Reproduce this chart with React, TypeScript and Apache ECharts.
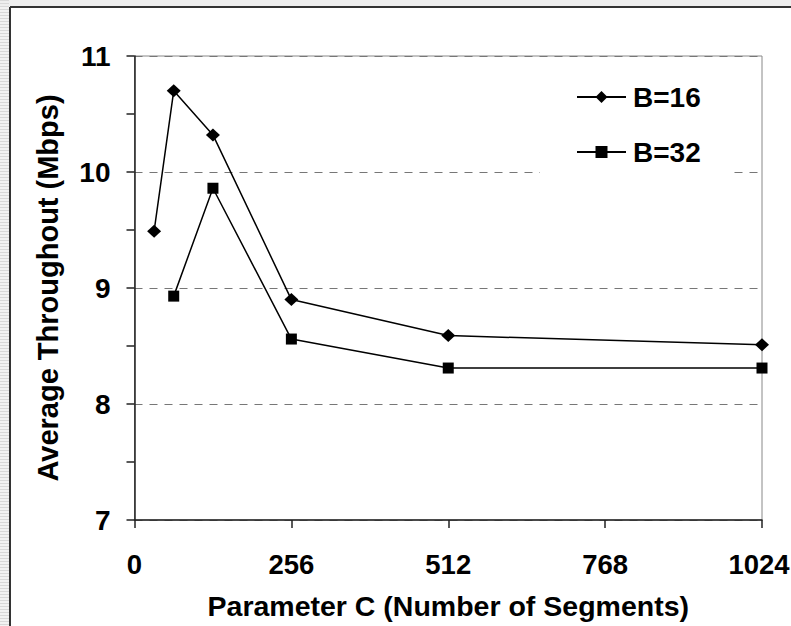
import React, { useEffect, useRef } from "react";
import * as echarts from "echarts";

const xB16 = [32, 64, 128, 256, 512, 1024];
const yB16 = [9.49, 10.7, 10.32, 8.9, 8.59, 8.51];
const xB32 = [64, 128, 256, 512, 1024];
const yB32 = [8.93, 9.86, 8.56, 8.31, 8.31];
const seriesNames = ["B=16", "B=32"];
const xTitle = "Parameter C (Number of Segments)";
const yTitle = "Average Throughout (Mbps)";

const FONT = "'Liberation Sans', Arial, sans-serif";

export default function App() {
  const ref = useRef<HTMLDivElement>(null);
  useEffect(() => {
    if (!ref.current) return;
    const chart = echarts.init(ref.current, undefined, { renderer: "svg" });
    const stripes: any[] = [];
    for (let y = 0; y < 626; y += 3) {
      stripes.push({
        type: "line",
        shape: { x1: 0, y1: y + 0.5, x2: 9, y2: y + 0.5 },
        style: { stroke: "#d8d8d8", lineWidth: 1 },
        silent: true,
      });
    }
    chart.setOption({
      animation: false,
      backgroundColor: "#ffffff",
      textStyle: { fontFamily: FONT },
      graphic: [
        { type: "rect", shape: { x: 0, y: 0, width: 10, height: 626 }, style: { fill: "#f2f2f2" }, silent: true },
        { type: "rect", shape: { x: 0, y: 0, width: 791, height: 6 }, style: { fill: "#eeeeee" }, silent: true },
        ...stripes,
        { type: "line", shape: { x1: 10, y1: 7, x2: 791, y2: 7 }, style: { stroke: "#333", lineWidth: 2 }, silent: true },
        { type: "line", shape: { x1: 10, y1: 7, x2: 10, y2: 626 }, style: { stroke: "#333", lineWidth: 2 }, silent: true },
      ],
      grid: {
        left: 134.5,
        right: 29,
        top: 56,
        bottom: 106,
        containLabel: false,
        outerBoundsMode: "none",
        show: true,
        borderColor: "#888",
        borderWidth: 1,
        backgroundColor: "transparent",
      },
      legend: {
        orient: "vertical",
        left: 540,
        top: 63,
        padding: [20, 32, 20, 36],
        backgroundColor: "#ffffff",
        itemWidth: 49,
        itemHeight: 15,
        itemGap: 27,
        data: seriesNames,
        textStyle: { fontFamily: FONT, fontWeight: "bold", fontSize: 28, color: "#000", padding: [0, 0, 0, 2] },
      },
      xAxis: {
        type: "value",
        min: 0,
        max: 1024,
        interval: 256,
        name: xTitle,
        nameLocation: "middle",
        nameGap: 71,
        nameTextStyle: { fontFamily: FONT, fontWeight: "bold", fontSize: 28.5, color: "#000" },
        axisLine: { show: true, lineStyle: { color: "#222", width: 1.5 } },
        axisTick: { show: true, inside: false, length: 8, lineStyle: { color: "#222", width: 1.5 } },
        axisLabel: {
          fontFamily: FONT,
          fontWeight: "bold",
          fontSize: 27.5,
          color: "#000",
          margin: 30,
          formatter: (v: number) => (v === 1024 ? "{last|" + v + "}" : String(v)),
          rich: {
            last: { fontFamily: FONT, fontWeight: "bold", fontSize: 27.5, color: "#000", padding: [0, 6, 0, 0] },
          },
        },
        splitLine: { show: false },
      },
      yAxis: {
        type: "value",
        min: 7,
        max: 11,
        interval: 1,
        name: yTitle,
        nameLocation: "middle",
        nameGap: 72,
        nameTextStyle: { fontFamily: FONT, fontWeight: "bold", fontSize: 29, color: "#000" },
        axisLine: { show: true, lineStyle: { color: "#222", width: 1.5 } },
        axisTick: { show: true, inside: false, length: 8, lineStyle: { color: "#222", width: 1.5 } },
        minorTick: { show: true, splitNumber: 2, length: 8, lineStyle: { color: "#222", width: 1.5 } },
        axisLabel: {
          fontFamily: FONT,
          fontWeight: "bold",
          fontSize: 28,
          color: "#000",
          margin: 24,
          formatter: (v: number) => String(v),
        },
        splitLine: { show: true, lineStyle: { color: "#777", width: 1.2, type: [8, 7] } },
      },
      series: [
        {
          name: seriesNames[0],
          type: "line",
          data: xB16.map((x, i) => [x, yB16[i]]),
          symbol: "diamond",
          symbolSize: [14, 13],
          color: "#000",
          lineStyle: { color: "#000", width: 1.5 },
          itemStyle: { color: "#000" },
        },
        {
          name: seriesNames[1],
          type: "line",
          data: xB32.map((x, i) => [x, yB32[i]]),
          symbol: "rect",
          symbolSize: 11,
          color: "#000",
          lineStyle: { color: "#000", width: 1.5 },
          itemStyle: { color: "#000" },
        },
      ],
    });
    return () => chart.dispose();
  }, []);
  return (
    <div
      ref={ref}
      style={{ position: "absolute", left: 0, top: 0, width: 791, height: 626 }}
    />
  );
}
